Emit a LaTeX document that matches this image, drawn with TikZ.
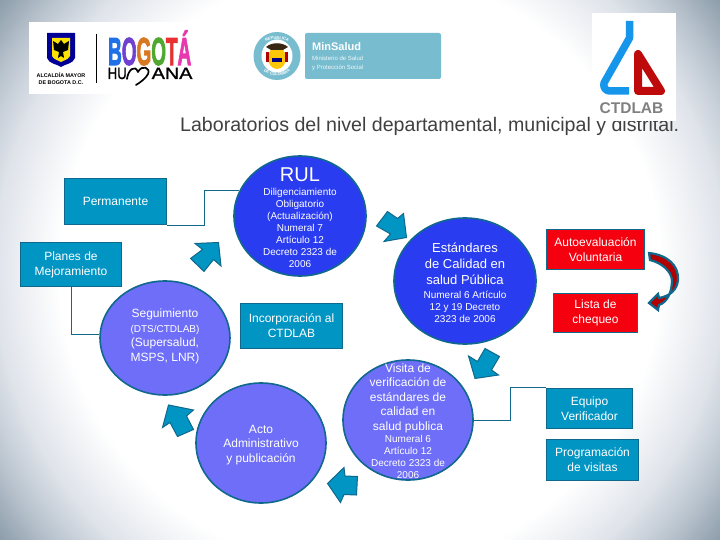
\documentclass[tikz,border=0pt]{standalone}
\usepackage{fontspec}
\setmainfont{Liberation Sans}
\newfontfamily\heavyfont[FakeBold=3]{Liberation Sans Bold}
\newfontfamily\semifont[FakeBold=1.2]{Liberation Sans}
\usetikzlibrary{shapes.geometric,decorations.text}
\definecolor{bgedge}{HTML}{8D9DAB}
\definecolor{bgmid}{HTML}{DFE3EA}
\definecolor{bgdeep}{HTML}{BCC6D0}
\definecolor{tealfill}{HTML}{0095C3}
\definecolor{tealline}{HTML}{10688C}
\definecolor{bluefill}{HTML}{2A3CF0}
\definecolor{violetfill}{HTML}{6E6EF8}
\definecolor{redfill}{HTML}{F5000F}
\definecolor{minsalud}{HTML}{78BDCF}
\definecolor{titlegray}{HTML}{404040}
\pgfdeclareradialshading{bgshade}{\pgfpoint{0bp}{0bp}}{color(0bp)=(white); color(16.7bp)=(white); color(20.3bp)=(bgmid); color(22.5bp)=(bgdeep); color(25bp)=(bgedge); color(50bp)=(bgedge)}
\newcommand{\fs}[1]{\fontsize{#1}{#1}\selectfont}
\newcommand{\lgl}[1]{{\fontsize{13}{16}\selectfont #1}}
\newcommand{\sml}[1]{{\fontsize{10}{12}\selectfont #1}}
\tikzset{
  boxn/.style={draw=tealline,line width=1.6pt,fill=tealfill,text=white,align=center,inner sep=0pt,font=\fontsize{12}{15}\selectfont},
  rednode/.style={boxn,fill=redfill},
  elln/.style={ellipse,draw=tealline,line width=1.6pt,inner sep=0pt},
  elltext/.style={text=white,align=center,inner sep=0pt},
  conn/.style={draw=tealline,line width=0.9pt},
  blockarrow/.style={fill=tealfill,draw=tealline,line width=1pt,line join=miter},
  logotext/.style={inner sep=0pt,anchor=base west}
}
\begin{document}
\begin{tikzpicture}[x=1pt,y=-1pt]
\useasboundingbox (0,0) rectangle (720,540);
\begin{scope}
\clip (0,0) rectangle (720,540);
\shade[shading=bgshade] (-90,-180) rectangle (810,720);
\end{scope}

% title
\node[logotext,text=titlegray,font=\fs{19.6}] (title) at (180,131.5) {Laboratorios del nivel departamental, municipal y distrital.};

% Bogota logo
\fill[white] (29,22) rectangle (193,94);
\fill[white] (592,13) rectangle (676,121);
\draw[black,line width=0.7pt] (96,34) -- (96,83);
\fill[blue!60!black] (47,33) -- (75,33) -- (75,58) .. controls (73,64) and (65,64) .. (61,67) .. controls (57,64) and (49,64) .. (47,58) -- cycle;
\fill[yellow!85!orange] (52,38) -- (70,38) -- (70,56) .. controls (68,60) and (64,60) .. (61,62) .. controls (58,60) and (54,60) .. (52,56) -- cycle;
\fill[black] (61,40) -- (64,44) -- (69,41) -- (68,50) -- (63,52) -- (64,58) -- (61,56) -- (58,58) -- (59,52) -- (54,50) -- (53,41) -- (58,44) -- cycle;
\node[inner sep=0pt,align=center,font=\bfseries\fontsize{5.4}{7}\selectfont] (alcaldia) at (61,78.5) {ALCALDÍA MAYOR\\DE BOGOTA D.C.};
\node[logotext,font=\heavyfont\fs{39}] (bogota) at (108,65) {\scalebox{0.485}[1]{\textcolor[HTML]{2070E8}{B}\textcolor[HTML]{7040D0}{O}\textcolor[HTML]{D87820}{G}\textcolor[HTML]{50A830}{O}\textcolor[HTML]{E83030}{T}\textcolor[HTML]{E838B0}{Á}}};
\node[logotext,font=\semifont\fs{16.5}] (hu) at (107.5,79) {\scalebox{0.8}[1]{HU}};
\node[logotext,font=\semifont\fs{16.5}] (ana) at (151.5,79) {\scalebox{1.2}[1]{ANA}};
\draw[black,line width=1.7pt,line cap=round,line join=round] (127,79) .. controls (128,70) and (135,64) .. (138,72) .. controls (142,64) and (151,68) .. (148,74) .. controls (146,78) and (141,82) .. (136,85);

% MinSalud logo
\fill[minsalud,rounded corners=2pt] (305,33) rectangle (441,79);
\fill[minsalud] (277,56) ellipse (23.5 and 24);
\fill[white] (277,56) ellipse (15.5 and 16.5);
\fill[yellow!60!orange] (277,58) ellipse (9 and 11);
\fill[blue!50!black] (272,58) rectangle (282,62);
\fill[red!70!black] (266,52) rectangle (269,62);
\fill[red!70!black] (285,52) rectangle (288,62);
\fill[black!70!brown] (266,47) .. controls (272,42) and (282,42) .. (288,47) -- (283,50) -- (271,50) -- cycle;
\path[decorate,decoration={text along path,text align=center,text={|\bfseries\fontsize{4}{4}\selectfont\color{white}|REPUBLICA}}] (258,52) .. controls (262,35) and (292,35) .. (296,52);
\path[decorate,decoration={text along path,text align=center,text={|\bfseries\fontsize{4}{4}\selectfont\color{white}|DE COLOMBIA}}] (257,62) .. controls (263,80) and (291,80) .. (297,62);
\node[logotext,text=white,font=\bfseries\fs{11}] (minsal) at (312,51) {MinSalud};
\node[logotext,text=white!88!minsalud,font=\fs{6}] (minsal2) at (312,61) {Ministerio de Salud};
\node[logotext,text=white!88!minsalud,font=\fs{6}] (minsal3) at (312,70) {y Protección Social};

% CTDLAB logo
\draw[color={rgb,255:red,22;green,150;blue,235},line width=7.5pt,line join=round,line cap=butt] (629.5,21) -- (629.5,38) -- (604,83) .. controls (603,88) and (606,91) .. (610,91) -- (629,91);
\draw[color={rgb,255:red,190;green,10;blue,10},line width=8pt,line join=round] (638,54) -- (661,91) -- (638,91) -- cycle;
\node[inner sep=0pt,text=gray,font=\bfseries\fs{15.5}] (ctdlab) at (631.5,108) {CTDLAB};

% boxes and circles
\node[boxn,minimum width=102,minimum height=46] (perm) at (115.5,201.5) {Permanente};
\node[boxn,minimum width=101,minimum height=44] (planes) at (71,264.5) {Planes de\\Mejoramiento};
\node[boxn,minimum width=102,minimum height=45] (incorp) at (291.5,326) {Incorporación al\\CTDLAB};
\node[rednode,minimum width=98,minimum height=40] (auto) at (595.5,249.5) {Autoevaluación\\Voluntaria};
\node[rednode,minimum width=84,minimum height=39] (lista) at (595.5,313) {Lista de\\chequeo};
\node[boxn,minimum width=86,minimum height=40] (equipo) at (589.5,408.5) {Equipo\\Verificador};
\node[boxn,minimum width=92,minimum height=41] (prog) at (592.5,460) {Programación\\de visitas};

\node[elln,fill=bluefill,minimum width=132,minimum height=120] (rul) at (300,216) {};
\node[elln,fill=bluefill,minimum width=142,minimum height=126] (est) at (465,281) {};
\node[elln,fill=violetfill,minimum width=130,minimum height=114] (seg) at (165,338) {};
\node[elln,fill=violetfill,minimum width=130,minimum height=120] (acto) at (261,443) {};
\node[elln,fill=violetfill,minimum width=130,minimum height=120] (vis) at (408,420) {};

\draw[conn] (perm.south east) -- ++(37,0) |- (rul.157);
\draw[conn] (planes.south) |- (seg.177);
\draw[conn] (vis.east) -- ++(37,0) |- (equipo.north west);

\node[elltext,font=\fontsize{10}{12}\selectfont] (rult) at (300,217.5) {{\fontsize{20}{24}\selectfont RUL}\\[2pt]Diligenciamiento\\Obligatorio\\(Actualización)\\Numeral 7\\Artículo 12\\Decreto 2323 de\\2006};
\node[elltext,font=\fontsize{10}{12}\selectfont] (estt) at (465,283) {\lgl{Estándares}\\[4pt]\lgl{de Calidad en}\\[4pt]\lgl{salud Pública}\\[2pt]Numeral 6 Artículo\\12  y 19 Decreto\\2323 de 2006};
\node[elltext,font=\fontsize{12}{14.5}\selectfont] (segt) at (165,336.5) {Seguimiento\\{\fontsize{10}{14.5}\selectfont (DTS/CTDLAB)}\\(Supersalud,\\MSPS, LNR)};
\node[elltext,font=\fontsize{12}{14.5}\selectfont] (actot) at (261,445) {Acto\\Administrativo\\y publicación};
\node[elltext,font=\fontsize{12}{14.5}\selectfont] (vist) at (408,421) {Visita de\\verificación de\\estándares de\\calidad en\\salud publica\\[-2.5pt]\sml{Numeral 6}\\[-2.5pt]\sml{Artículo 12}\\[-2.5pt]\sml{Decreto 2323 de}\\[-2.5pt]\sml{2006}};

% block arrows
\draw[blockarrow] (195,243.5) -- (218.5,242.5) -- (221,266) -- (213.5,259.5) -- (204,271.5) -- (190.5,258.5) -- (202.5,249.5) -- cycle;
\draw[blockarrow] (387.5,211.5) -- (397.5,218.5) -- (403.5,213.5) -- (406.5,237.5) -- (384,241.5) -- (390.5,234) -- (376.5,226) -- cycle;
\draw[blockarrow] (468.5,356) -- (475,378.5) -- (498.5,375) -- (491.5,370) -- (499.5,356.5) -- (485,348.5) -- (477.5,361.5) -- cycle;
\draw[blockarrow] (327.5,483.5) -- (344,467.5) -- (345,476) -- (357.5,476.5) -- (356.5,495) -- (344,494.5) -- (340.5,502.5) -- cycle;
\draw[blockarrow] (168.5,405) -- (193.5,410) -- (186.5,416) -- (193.5,429.5) -- (177.5,436.5) -- (170,422.5) -- (162.5,427.5) -- cycle;
\draw[fill=red!70!black,draw=tealline,line width=2.2pt,line join=miter] (649,253) .. controls (668,255) and (679,266) .. (678,280) .. controls (677,290) and (670,296) .. (659,298) -- (658,294) -- (649,303) -- (658,310) -- (659,305) .. controls (668,302) and (672,291) .. (672,280) .. controls (671,271) and (662,263) .. (650,260) -- cycle;
\end{tikzpicture}
\end{document}
